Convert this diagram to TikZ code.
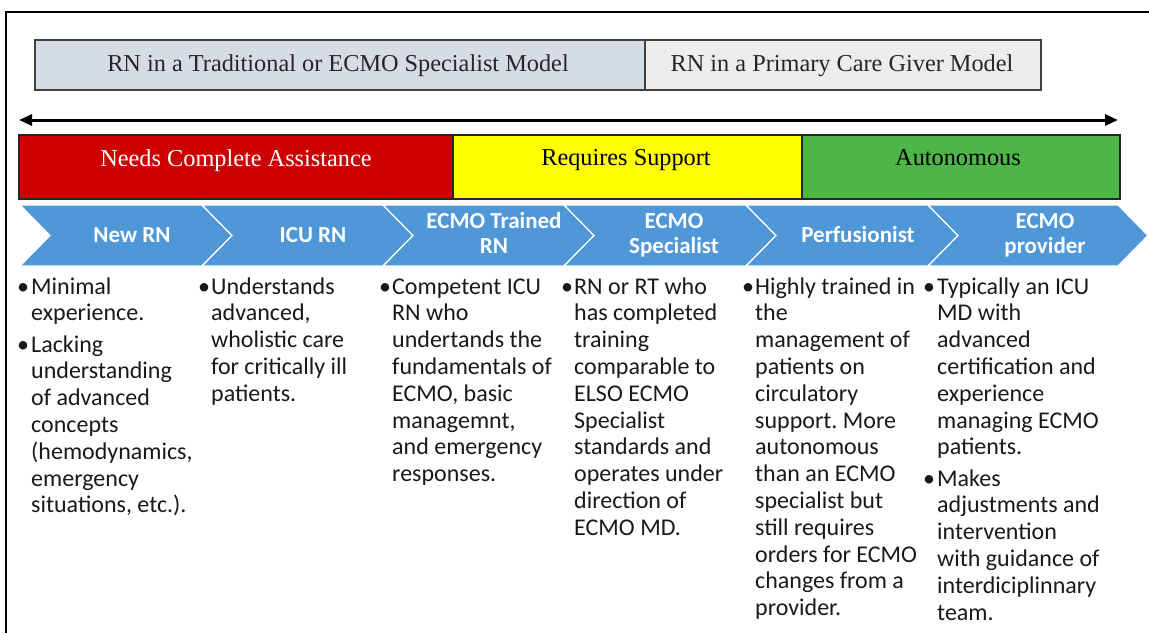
\documentclass[tikz,border=0pt]{standalone}
\usepackage{fontspec}
\setmainfont{Liberation Serif}
\newfontfamily\calib{Carlito}
\usetikzlibrary{arrows.meta}
\frenchspacing

\definecolor{tradfill}{RGB}{214,220,229}
\definecolor{primfill}{RGB}{237,237,237}
\definecolor{needred}{RGB}{204,0,0}
\definecolor{supyellow}{RGB}{255,255,0}
\definecolor{autogreen}{RGB}{78,181,72}
\definecolor{chevblue}{RGB}{79,151,215}

\begin{document}
\begin{tikzpicture}[x=1pt,y=-1pt,
  modelbox/.style={draw=black!75, line width=1.2pt, minimum height=50pt, inner sep=0pt},
  modeltext/.style={anchor=base, inner sep=0pt, text=black!85, font=\fontsize{24.3}{28}\selectfont},
  bandbox/.style={draw=black!85, line width=1.3pt, minimum height=64pt, inner sep=0pt},
  bandtext/.style={anchor=base, inner sep=0pt, font=\fontsize{24.3}{28}\selectfont},
  chev/.style={fill=chevblue, draw=white, line width=1.2pt, line join=miter},
  chevtext/.style={anchor=base, inner sep=0pt, text=white, font=\calib\bfseries\fontsize{23}{25}\selectfont},
  descline/.style={anchor=base west, inner sep=0pt, text=black!90, font=\calib\fontsize{24}{26.8}\selectfont},
  bulletmark/.style={anchor=base, inner sep=0pt, text=black!90, font=\calib\fontsize{24}{26.8}\selectfont},
  timeline/.style={line width=3pt, {Triangle[length=13pt,width=11pt]}-{Triangle[length=13pt,width=11pt]}}
]
\useasboundingbox (0,0) rectangle (1149,633);

% outer frame (top and left edges)
\coordinate (frameBL) at (6,633);
\coordinate (frameTL) at (6,12);
\coordinate (frameTR) at (1149,12);
\draw[line width=2pt] (frameBL) -- (frameTL) -- (frameTR);

% care models
\node[modelbox, fill=tradfill, minimum width=610pt] (trad) at (340,65) {};
\node[modelbox, fill=primfill, minimum width=396pt] (prim) at (843,65) {};
\node[modeltext] (tradlbl) at (338,71) {RN in a Traditional or ECMO Specialist Model};
\node[modeltext] (primlbl) at (842,71) {RN in a Primary Care Giver Model};

% timeline arrow
\coordinate (arrL) at (19,120);
\coordinate (arrR) at (1118,120);
\draw[timeline] (arrL) -- (arrR);

% level of assistance
\node[bandbox, fill=needred, minimum width=434pt] (needs) at (236,167) {};
\node[bandbox, fill=supyellow, minimum width=349pt] (supp) at (627.5,167) {};
\node[bandbox, fill=autogreen, minimum width=318pt] (auto) at (961,167) {};
\node[bandtext, text=white] (needslbl) at (236,166) {Needs Complete Assistance};
\node[bandtext, text=black] (supplbl) at (626,165) {Requires Support};
\node[bandtext, text=black] (autolbl) at (958,165) {Autonomous};

% chevron process
\foreach \l/\r in {20/202, 202/383, 383/564, 564/746, 746/928, 928/1118}
  \draw[chev] (\l,205) -- (\r,205) -- (\r+30,235.5) -- (\r,266) -- (\l,266) -- (\l+30,235.5) -- cycle;

\node[chevtext] (newrn) at (132,242) {New RN};
\node[chevtext] (icurn) at (313,242) {ICU RN};
\node[chevtext] (trainedA) at (494,228) {ECMO Trained};
\node[chevtext] (trainedB) at (494,253) {RN};
\node[chevtext] (specA) at (674,228) {ECMO};
\node[chevtext] (specB) at (674,253) {Specialist};
\node[chevtext] (perf) at (858,242) {Perfusionist};
\node[chevtext] (provA) at (1045,228) {ECMO};
\node[chevtext] (provB) at (1045,253) {provider};

% descriptions
\node[bulletmark] (c1b1) at (23,294) {•};
\foreach \t [count=\i from 0] in {Minimal, experience.}
  \node[descline] (c1p1-\i) at (31,294+\i*26.8) {\t};
\node[bulletmark] (c1b2) at (23,352.1) {•};
\foreach \t [count=\i from 0] in {Lacking, understanding, of advanced, concepts, {(hemodynamics,}, emergency, {situations, etc.).}}
  \node[descline] (c1p2-\i) at (31,352.1+\i*26.8) {\t};

\node[bulletmark] (c2b1) at (204,294) {•};
\foreach \t [count=\i from 0] in {Understands, {advanced,}, wholistic care, for critically ill, patients.}
  \node[descline] (c2p1-\i) at (211,294+\i*26.8) {\t};

\node[bulletmark] (c3b1) at (385,294) {•};
\foreach \t [count=\i from 0] in {Competent ICU, RN who, undertands the, fundamentals of, {ECMO, basic}, {managemnt,}, and emergency, responses.}
  \node[descline] (c3p1-\i) at (392,294+\i*26.8) {\t};

\node[bulletmark] (c4b1) at (567,294) {•};
\foreach \t [count=\i from 0] in {RN or RT who, has completed, training, comparable to, ELSO ECMO, Specialist, standards and, operates under, direction of, ECMO MD.}
  \node[descline] (c4p1-\i) at (574,294+\i*26.8) {\t};

\node[bulletmark] (c5b1) at (748,294) {•};
\foreach \t [count=\i from 0] in {Highly trained in, the, management of, patients on, circulatory, support. More, autonomous, than an ECMO, specialist but, still requires, orders for ECMO, changes from a, provider.}
  \node[descline] (c5p1-\i) at (755,294+\i*26.8) {\t};

\node[bulletmark] (c6b1) at (929,294) {•};
\foreach \t [count=\i from 0] in {Typically an ICU, MD with, advanced, certification and, experience, managing ECMO, patients.}
  \node[descline] (c6p1-\i) at (937,294+\i*26.8) {\t};
\node[bulletmark] (c6b2) at (929,486.1) {•};
\foreach \t [count=\i from 0] in {Makes, adjustments and, intervention, with guidance of, interdiciplinnary, team.}
  \node[descline] (c6p2-\i) at (937,486.1+\i*26.8) {\t};
\end{tikzpicture}
\end{document}
